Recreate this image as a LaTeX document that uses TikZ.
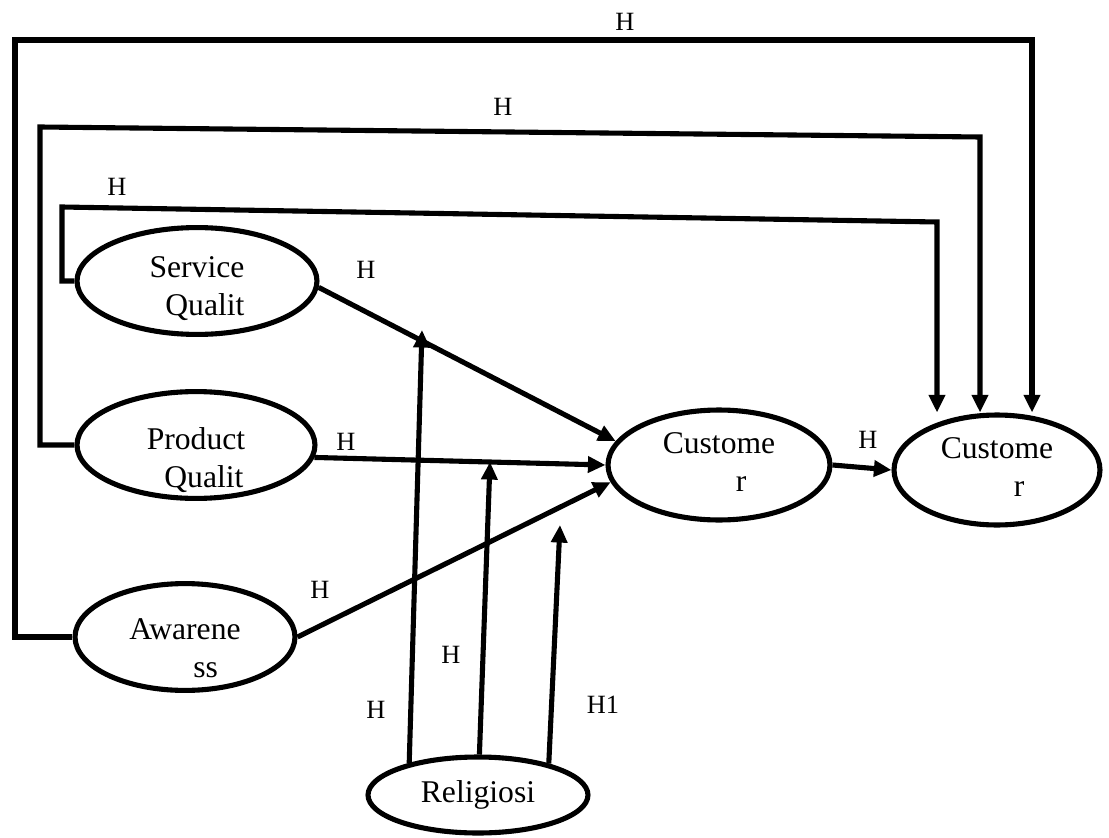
\documentclass[tikz,border=0pt]{standalone}
\usepackage{fontspec}
\setmainfont{Liberation Serif}
\usetikzlibrary{shapes.geometric,arrows.meta}

% two lines of a construct name, second line pushed right, block lowered
\newcommand{\twolines}[4]{\raisebox{#4}[\height][\depth]{\begin{tabular}{@{}c@{}}#1\\\hspace*{#3}#2\end{tabular}}}

\begin{document}
\begin{tikzpicture}[
    x=0.02cm, y=-0.02cm,
    var/.style={draw, ellipse, line width=2.9pt, inner sep=0pt, font=\fontsize{18}{21.5}\selectfont},
    arrow/.style={-{Triangle[length=10pt,width=9pt]}, line width=2.9pt},
    hyp/.style={font=\fontsize{15}{17}\selectfont}
]
    \useasboundingbox (0,0) rectangle (1109,838);

    % Constructs
    \node[var, minimum width=4.8cm, minimum height=1.84cm] (sq) at (197,281) {\twolines{Service}{Qualit}{0.5em}{-4.5pt}};
    \node[var, minimum width=4.76cm, minimum height=2.08cm] (pq) at (196,445) {\twolines{Product}{Qualit}{0.5em}{-9pt}};
    \node[var, minimum width=4.4cm, minimum height=2.08cm] (aw) at (185,637) {\twolines{Awarene}{ss}{1.3em}{-8pt}};
    \node[var, minimum width=4.44cm, minimum height=2.2cm] (c1) at (719,465) {\twolines{Custome}{r}{1.4em}{0pt}};
    \node[var, minimum width=4.12cm, minimum height=2.2cm] (c2) at (997,470) {\twolines{Custome}{r}{1.4em}{0pt}};
    \node[var, minimum width=4.4cm, minimum height=1.52cm] (rel) at (478,795) {Religiosi};

    % Corners of the long paths
    \coordinate (k1) at (15,40);
    \coordinate (k2) at (1032,40);
    \coordinate (k3) at (40,127);
    \coordinate (k4) at (980,137);
    \coordinate (k5) at (62,207);
    \coordinate (k6) at (937,222);

    % Ends of the moderating arrows
    \coordinate (m1) at (422,330);
    \coordinate (m2) at (490,462);
    \coordinate (m3) at (560,525);

    % Direct paths
    \draw[arrow] (sq.-3) -- (c1.167);
    \draw[arrow] (pq.-6) -- (c1.west);
    \draw[arrow] (aw.east) -- (c1.189);
    \draw[arrow] (c1.east) -- (c2.west);

    % Paths to the second outcome
    \draw[arrow] (aw.west) -| (k1) -- (k2) -- (k2 |- c2.north);
    \draw[arrow] (pq.west) -| (k3) -- (k4) -- (k4 |- c2.north);
    \draw[arrow] (sq.west) -| (k5) -- (k6) -- (k6 |- c2.north);

    % Moderation
    \draw[arrow] (rel.155) -- (m1);
    \draw[arrow] (rel.88) -- (m2);
    \draw[arrow] (rel.24) -- (m3);

    % Hypothesis labels
    \node[hyp] (h1) at (625,22) {H};
    \node[hyp] (h2) at (503,107) {H};
    \node[hyp] (h3) at (117,187) {H};
    \node[hyp] (h4) at (366,270) {H};
    \node[hyp] (h5) at (346,442) {H};
    \node[hyp] (h6) at (320,590) {H};
    \node[hyp] (h7) at (451,655) {H};
    \node[hyp] (h8) at (376,710) {H};
    \node[hyp] (h9) at (603,705) {H1};
    \node[hyp] (h10) at (868,440) {H};
\end{tikzpicture}
\end{document}
